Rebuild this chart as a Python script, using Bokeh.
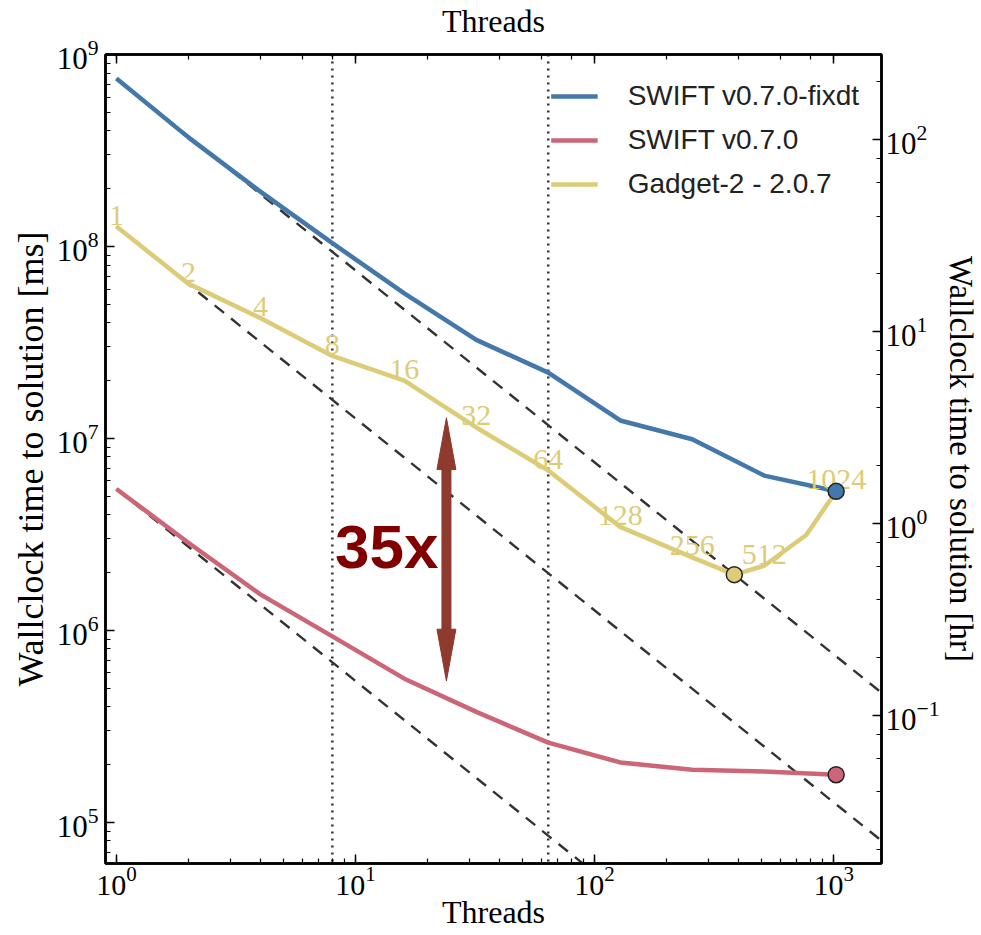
import math
from bokeh.plotting import figure
from bokeh.models import (Range1d, LogScale, LogAxis, Legend, LegendItem, Span,
                          Label, CustomJSTickFormatter)
from bokeh.core.properties import value
from bokeh.embed import file_html
from bokeh.resources import INLINE

# ---------------- data ----------------
threads = [1, 2, 4, 8, 16, 32, 64, 128, 256, 512, 1024]
swift_fixdt_ms = [7.5e8, 3.7e8, 1.93e8, 1.04e8, 5.7e7, 3.26e7, 2.2e7, 1.24e7, 9.9e6, 6.4e6, 5.3e6]
swift_ms = [5.45e6, 2.86e6, 1.54e6, 9.3e5, 5.6e5, 3.76e5, 2.6e5, 2.05e5, 1.88e5, 1.84e5, 1.77e5]
gadget_threads = [1, 2, 4, 8, 16, 32, 64, 128, 256, 384, 512, 768, 1024]
gadget_ms = [1.27e8, 6.4e7, 4.24e7, 2.69e7, 2.0e7, 1.14e7, 6.8e6, 3.46e6, 2.4e6, 1.95e6, 2.17e6, 3.14e6, 5.3e6]
gadget_label_threads = [1, 2, 4, 8, 16, 32, 64, 128, 256, 512, 1024]
series_names = ["SWIFT v0.7.0-fixdt", "SWIFT v0.7.0", "Gadget-2 - 2.0.7"]
series_colors = ["#4477AA", "#CC6677", "#DDCC77"]
dotted_threads = [8, 64]
ms_per_hr = 3.6e6
x_limits = [0.9, 1585]
y_limits = [6.1e4, 1e9]
right_title = "Wallclock time to solution [hr]"
speedup_text = "35x"
speedup_x = 24
speedup_top = 1.28e7
speedup_bottom = 5.45e5
speedup_mid = 2.72e6

SERIF = "Liberation Serif"

p = figure(width=981, height=935, x_axis_type="log", y_axis_type="log",
           x_range=Range1d(*x_limits), y_range=Range1d(*y_limits),
           output_backend="svg", toolbar_location=None,
           min_border_left=105, min_border_right=97, min_border_top=51, min_border_bottom=72)
p.background_fill_color = "white"
p.border_fill_color = "white"
p.outline_line_color = "black"
p.outline_line_width = 2.5
p.xgrid.visible = False
p.ygrid.visible = False

bottom_axis = p.below[0]
left_axis = p.left[0]

p.extra_y_ranges = {"hr": Range1d(y_limits[0] / ms_per_hr, y_limits[1] / ms_per_hr)}
p.extra_y_scales = {"hr": LogScale()}

right_axis = LogAxis(y_range_name="hr", axis_label=right_title)
p.add_layout(right_axis, "right")
top_axis = LogAxis(axis_label="Threads")
p.add_layout(top_axis, "above")

for ax in [bottom_axis, left_axis, right_axis, top_axis]:
    ax.major_tick_in = 9
    ax.major_tick_out = 0
    ax.minor_tick_in = 5
    ax.minor_tick_out = 0
    ax.major_tick_line_width = 1.5
    ax.minor_tick_line_width = 1.2
    ax.axis_line_width = 2.5
    ax.major_label_text_font = SERIF
    ax.major_label_text_font_size = "31px"
    ax.major_label_text_color = "black"
    ax.axis_label_text_font = SERIF
    ax.axis_label_text_font_style = "normal"
    ax.axis_label_text_color = "black"

bottom_axis.axis_label = "Threads"
bottom_axis.axis_label_text_font_size = "32px"
bottom_axis.major_label_text_font_size = "30px"
bottom_axis.major_label_standoff = 3
bottom_axis.axis_label_standoff = -4

left_axis.axis_label = "Wallclock time to solution [ms]"
left_axis.axis_label_text_font_size = "36px"
left_axis.major_label_standoff = 7
left_axis.axis_label_standoff = 3

right_axis.axis_label_text_font_size = "33px"
right_axis.major_label_standoff = 4
right_axis.axis_label_standoff = 0

top_axis.formatter = CustomJSTickFormatter(code="return ' '")
top_axis.major_label_text_font_size = "2px"
top_axis.major_label_standoff = 0
top_axis.axis_label_text_font_size = "32px"
top_axis.axis_label_standoff = 10

# vertical dotted lines
for t in dotted_threads:
    p.add_layout(Span(location=t, dimension="height", line_color="#333333",
                      line_dash="2 5", line_width=2.5, level="underlay"))

# ideal scaling dashed lines
ideal_x = [1, x_limits[1] * 2]
for base in [swift_fixdt_ms[0], gadget_ms[0], swift_ms[0]]:
    p.line(ideal_x, [base / t for t in ideal_x], line_color="#333333",
           line_dash="12 9", line_width=2.4)

r_blue = p.line(threads, swift_fixdt_ms, line_color=series_colors[0], line_width=4.5)
r_red = p.line(threads, swift_ms, line_color=series_colors[1], line_width=4.5)
r_yel = p.line(gadget_threads, gadget_ms, line_color=series_colors[2], line_width=4.5)

# gadget labels
lab_y = [gadget_ms[gadget_threads.index(t)] for t in gadget_label_threads]
p.text(x=gadget_label_threads, y=lab_y, text=[str(t) for t in gadget_label_threads],
       text_font=value(SERIF), text_font_size="30px", text_color=series_colors[2],
       text_align="center", text_baseline="bottom", y_offset=-2)

# end / min markers
imin = gadget_ms.index(min(gadget_ms))
p.scatter(x=[threads[-1]], y=[swift_fixdt_ms[-1]], size=16, fill_color=series_colors[0],
          line_color="#222222", line_width=1.5)
p.scatter(x=[gadget_threads[imin]], y=[gadget_ms[imin]], size=16, fill_color=series_colors[2],
          line_color="#222222", line_width=1.5)
p.scatter(x=[threads[-1]], y=[swift_ms[-1]], size=16, fill_color=series_colors[1],
          line_color="#222222", line_width=1.5)

# double-headed arrow (heads drawn as triangles in log space)
arrow_color = "#8E3A2E"
head_len = 10 ** (52 / 193)    # ~52 px along y
head_half = 10 ** (9.5 / 240)  # ~9.5 px along x
p.segment(x0=[speedup_x], y0=[speedup_top / head_len * 1.05], x1=[speedup_x],
          y1=[speedup_bottom * head_len / 1.05], line_color=arrow_color, line_width=10)
p.patches(xs=[[speedup_x, speedup_x / head_half, speedup_x * head_half],
              [speedup_x, speedup_x / head_half, speedup_x * head_half]],
          ys=[[speedup_top, speedup_top / head_len, speedup_top / head_len],
              [speedup_bottom, speedup_bottom * head_len, speedup_bottom * head_len]],
          fill_color=arrow_color, line_color=arrow_color, line_width=1)
p.add_layout(Label(x=speedup_x, y=speedup_mid, text=speedup_text, x_offset=-8,
                   text_align="right", text_baseline="middle",
                   text_font="Liberation Sans", text_font_style="bold",
                   text_font_size="62px", text_color="#800000"))

legend = Legend(items=[LegendItem(label=series_names[0], renderers=[r_blue]),
                       LegendItem(label=series_names[1], renderers=[r_red]),
                       LegendItem(label=series_names[2], renderers=[r_yel])],
                location="top_right")
legend.label_text_font = "Liberation Sans"
legend.label_text_font_size = "28px"
legend.label_text_color = "#222222"
legend.glyph_width = 47
legend.glyph_height = 40
legend.label_height = 40
legend.label_standoff = 30
legend.spacing = 4
legend.padding = 10
legend.margin = 22
legend.border_line_color = None
legend.background_fill_color = "white"
legend.background_fill_alpha = 1.0
p.add_layout(legend)

open("out.html", "w").write(file_html(p, INLINE))
